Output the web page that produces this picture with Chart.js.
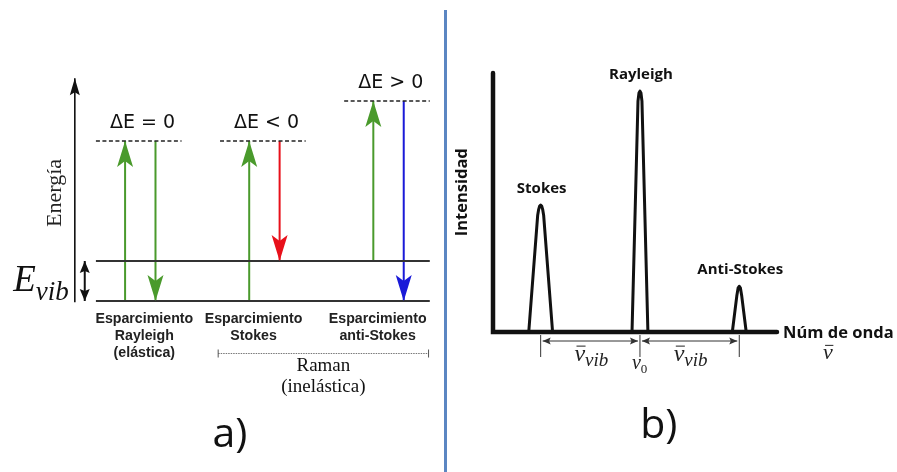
<!DOCTYPE html>
<html>
<head>
<meta charset="utf-8">
<script src="https://cdn.jsdelivr.net/npm/chart.js@4/dist/chart.umd.min.js"></script>
<style>
  html, body { margin: 0; padding: 0; background: #fff; }
  #wrap { position: relative; width: 897px; height: 472px; overflow: hidden; }
  canvas { position: absolute; top: 0; }
  #levels { left: 0; }
  #spectrum { left: 445px; }
  #sep { position: absolute; left: 444px; top: 10px; width: 3px; height: 462px; background: #5b86c2; }
</style>
</head>
<body>
<div id="wrap">
  <canvas id="levels" width="445" height="472"></canvas>
  <div id="sep"></div>
  <canvas id="spectrum" width="452" height="472"></canvas>
</div>
<script>
// ---------- a) Energy-level diagram (arbitrary energy units, ground state = 0) ----------
const processes     = ['Rayleigh', 'Stokes', 'anti-Stokes'];
const processColumn = [1, 2, 3];
const initialLevel  = [0, 0, 1];
const virtualLevel  = [4, 4, 5];
const finalLevel    = [0, 1, 0];
const deltaLabels   = ['ΔE = 0', 'ΔE < 0', 'ΔE > 0'];
const captions      = [
  ['Esparcimiento', 'Rayleigh', '(elástica)'],
  ['Esparcimiento', 'Stokes'],
  ['Esparcimiento', 'anti-Stokes']
];
const groundLevel = 0;
const vibLevel = 1;
const energyAxisTop = 5.57;

// ---------- b) Spectrum (wavenumber relative to ν0, in units of ν_vib) ----------
const wavenumber = [-1.48, -1.12, -1.03, -1.02, -1.01, -1.0, -0.99, -0.98, -0.97, -0.88,
                    -0.08, -0.02, -0.01, 0, 0.01, 0.02, 0.08,
                    0.93, 0.975, 0.988, 1.0, 1.012, 1.025, 1.07, 1.38];
const intensity  = [0, 0, 48.5, 50.9, 52.3, 52.7, 52.3, 50.9, 48.5, 0,
                    0, 95.8, 99.2, 100, 99.2, 95.8, 0,
                    0, 14.9, 18.2, 19, 18.2, 14.9, 0, 0];
const peakNames     = ['Stokes', 'Rayleigh', 'Anti-Stokes'];
const peakPositions = [-1, 0, 1];
const peakHeights   = [52.7, 100, 19];

// ---------- drawing helpers ----------
const GREEN = '#4a9a2c', RED = '#e8101a', BLUE = '#1a1ad8', INK = '#111';
const emissionColor = [GREEN, RED, BLUE];
const UP_OFFSET = -0.105, DOWN_OFFSET = 0.14;
const captionX = [1.05, 1.93, 2.93];

function head(ctx, x, y, angle, len, half, notch, color) {
  ctx.save();
  ctx.translate(x, y);
  ctx.rotate(angle);
  ctx.beginPath();
  ctx.moveTo(0, 0);
  ctx.lineTo(-len, half);
  ctx.lineTo(-len + notch, 0);
  ctx.lineTo(-len, -half);
  ctx.closePath();
  ctx.fillStyle = color;
  ctx.fill();
  ctx.restore();
}

// arrowheads for datasets flagged with `arrow`
const arrowPlugin = {
  id: 'arrowHeads',
  afterDatasetsDraw(chart) {
    const ctx = chart.ctx;
    chart.data.datasets.forEach((ds, i) => {
      if (!ds.arrow) return;
      const pts = chart.getDatasetMeta(i).data;
      const a = pts[pts.length - 2], b = pts[pts.length - 1];
      const [len, half, notch] = ds.arrow;
      head(ctx, b.x, b.y, Math.atan2(b.y - a.y, b.x - a.x), len, half, notch, ds.borderColor);
      if (ds.bothEnds) {
        head(ctx, a.x, a.y, Math.atan2(a.y - b.y, a.x - b.x), len, half, notch, ds.borderColor);
      }
    });
  }
};

function seg(points, color, width, extra) {
  return Object.assign({
    data: points, showLine: true, borderColor: color, borderWidth: width,
    pointRadius: 0, fill: false, tension: 0, clip: false
  }, extra || {});
}

function nuBar(ctx, cx, baseline, sub, size, subSize) {
  ctx.save();
  ctx.font = 'italic ' + size + 'px "Liberation Serif"';
  const w = ctx.measureText('ν').width;
  ctx.font = 'italic ' + subSize + 'px "Liberation Serif"';
  const ws = sub ? ctx.measureText(sub).width : 0;
  const x0 = cx - (w + ws) / 2;
  ctx.fillStyle = '#222';
  ctx.textAlign = 'left';
  ctx.textBaseline = 'alphabetic';
  ctx.font = 'italic ' + size + 'px "Liberation Serif"';
  ctx.fillText('ν', x0, baseline);
  ctx.strokeStyle = '#222';
  ctx.lineWidth = 1;
  ctx.beginPath();
  ctx.moveTo(x0 + w * 0.2, baseline - size * 0.62);
  ctx.lineTo(x0 + w * 1.05, baseline - size * 0.62);
  ctx.stroke();
  if (sub) {
    ctx.font = 'italic ' + subSize + 'px "Liberation Serif"';
    ctx.fillText(sub, x0 + w, baseline + size * 0.22);
  }
  ctx.restore();
}

// ---------- chart a) ----------
const levelDatasets = [];
levelDatasets.push(seg([{x: 0.66, y: groundLevel}, {x: 3.35, y: groundLevel}], '#333', 1.8));
levelDatasets.push(seg([{x: 0.66, y: vibLevel}, {x: 3.35, y: vibLevel}], '#333', 1.8));
processes.forEach((p, i) => {
  const c = processColumn[i];
  levelDatasets.push(seg([{x: c - 0.34, y: virtualLevel[i]}, {x: c + 0.35, y: virtualLevel[i]}],
    '#222', 1.3, {borderDash: [4, 2.5]}));
});
processes.forEach((p, i) => {
  const c = processColumn[i];
  levelDatasets.push(seg([{x: c + UP_OFFSET, y: initialLevel[i]}, {x: c + UP_OFFSET, y: virtualLevel[i]}],
    GREEN, 2, {arrow: [26, 8, 6]}));
  levelDatasets.push(seg([{x: c + DOWN_OFFSET, y: virtualLevel[i]}, {x: c + DOWN_OFFSET, y: finalLevel[i]}],
    emissionColor[i], 2, {arrow: [26, 8, 6]}));
});
// energy axis
levelDatasets.push(seg([{x: 0.49, y: -0.03}, {x: 0.49, y: energyAxisTop}], INK, 1.6, {arrow: [17, 5, 3]}));
// vibrational gap marker
levelDatasets.push(seg([{x: 0.57, y: groundLevel}, {x: 0.57, y: vibLevel}], INK, 2,
  {arrow: [12, 5, 2], bothEnds: true}));

const levelText = {
  id: 'levelText',
  afterDatasetsDraw(chart) {
    const ctx = chart.ctx, xs = chart.scales.x, ys = chart.scales.y;
    const ground = ys.getPixelForValue(groundLevel);
    ctx.save();
    ctx.fillStyle = INK;
    ctx.textAlign = 'center';
    ctx.textBaseline = 'middle';
    ctx.font = '19px "DejaVu Sans"';
    deltaLabels.forEach((t, i) => {
      ctx.fillText(t, xs.getPixelForValue(processColumn[i] + 0.035), ys.getPixelForValue(virtualLevel[i]) - 18);
    });

    // captions
    ctx.font = 'bold 14.2px "Liberation Sans"';
    ctx.fillStyle = '#222';
    captions.forEach((lines, i) => {
      lines.forEach((t, k) => ctx.fillText(t, xs.getPixelForValue(captionX[i]), ground + 18 + k * 17));
    });

    // Raman bracket
    const bx0 = xs.getPixelForValue(1.645), bx1 = xs.getPixelForValue(3.34), by = ground + 52.5;
    ctx.strokeStyle = '#777';
    ctx.lineWidth = 1;
    ctx.setLineDash([1.5, 1]);
    ctx.beginPath(); ctx.moveTo(bx0, by); ctx.lineTo(bx1, by); ctx.stroke();
    ctx.setLineDash([]);
    ctx.strokeStyle = '#555';
    ctx.beginPath();
    ctx.moveTo(bx0, by - 4); ctx.lineTo(bx0, by + 4);
    ctx.moveTo(bx1, by - 4); ctx.lineTo(bx1, by + 4);
    ctx.stroke();
    ctx.fillStyle = '#111';
    ctx.font = '19px "Liberation Serif"';
    const rc = (bx0 + bx1) / 2;
    ctx.fillText('Raman', rc, ground + 65.5);
    ctx.fillText('(inelástica)', rc, ground + 86.5);

    // axis title
    const ax = xs.getPixelForValue(0.49);
    ctx.save();
    ctx.translate(ax - 20, ys.getPixelForValue(2.7));
    ctx.rotate(-Math.PI / 2);
    ctx.font = '22px "Liberation Serif"';
    ctx.fillStyle = '#222';
    ctx.fillText('Energía', 0, 0);
    ctx.restore();

    // E_vib
    ctx.textAlign = 'left';
    ctx.textBaseline = 'alphabetic';
    ctx.font = 'italic 37px "Liberation Serif"';
    const wE = ctx.measureText('E').width;
    ctx.font = 'italic 27px "Liberation Serif"';
    const wV = ctx.measureText('vib').width;
    const ex = ax - 6 - wE - wV;
    ctx.fillStyle = '#111';
    ctx.font = 'italic 37px "Liberation Serif"';
    ctx.fillText('E', ex, ground - 10);
    ctx.font = 'italic 27px "Liberation Serif"';
    ctx.fillText('vib', ex + wE, ground - 1);

    // panel tag
    ctx.textAlign = 'center';
    ctx.font = '41px "Open Sans"';
    ctx.fillStyle = '#111';
    ctx.fillText('a)', xs.getPixelForValue(1.74), 447);
    ctx.restore();
  }
};

new Chart(document.getElementById('levels'), {
  type: 'scatter',
  data: { datasets: levelDatasets },
  options: {
    responsive: false, animation: false, devicePixelRatio: 1,
    layout: { padding: { left: 14, right: 9, top: 61, bottom: 151 } },
    plugins: { legend: { display: false }, tooltip: { enabled: false } },
    scales: {
      x: { type: 'linear', min: 0, max: 3.4, display: false },
      y: { type: 'linear', min: -0.5, max: 6, display: false }
    }
  },
  plugins: [arrowPlugin, levelText]
});

// ---------- chart b) ----------
const spectrumText = {
  id: 'spectrumText',
  beforeDatasetsDraw(chart) {
    const ctx = chart.ctx, a = chart.chartArea;
    ctx.save();
    ctx.strokeStyle = INK;
    ctx.lineWidth = 4.5;
    ctx.lineCap = 'round';
    ctx.beginPath();
    ctx.moveTo(a.left, a.top);
    ctx.lineTo(a.left, a.bottom);
    ctx.lineTo(a.right, a.bottom);
    ctx.stroke();
    ctx.restore();
  },
  afterDatasetsDraw(chart) {
    const ctx = chart.ctx, a = chart.chartArea, xs = chart.scales.x, ys = chart.scales.y;
    const base = ys.getPixelForValue(0);
    ctx.save();
    ctx.fillStyle = INK;
    ctx.textAlign = 'center';
    ctx.textBaseline = 'middle';
    ctx.font = 'bold 15px "Open Sans"';
    peakNames.forEach((t, i) => {
      ctx.fillText(t, xs.getPixelForValue(peakPositions[i] + 0.01), ys.getPixelForValue(peakHeights[i]) - 16);
    });

    ctx.font = 'bold 16.5px "Open Sans"';
    ctx.textAlign = 'left';
    ctx.fillText('Núm de onda', a.right + 6, base + 1);
    nuBar(ctx, a.right + 51, base + 27, '', 22, 16);

    ctx.save();
    ctx.translate(a.left - 31, ys.getPixelForValue(58));
    ctx.rotate(-Math.PI / 2);
    ctx.textAlign = 'center';
    ctx.fillText('Intensidad', 0, 0);
    ctx.restore();

    // ν_vib separations
    ctx.strokeStyle = '#333';
    ctx.lineWidth = 1;
    const tx = peakPositions.map(v => xs.getPixelForValue(v));
    ctx.beginPath();
    tx.forEach(x => { ctx.moveTo(x, base + 3); ctx.lineTo(x, base + 25); });
    const ay = base + 9;
    for (let i = 0; i < tx.length - 1; i++) {
      ctx.moveTo(tx[i] + 2, ay); ctx.lineTo(tx[i + 1] - 2, ay);
    }
    ctx.stroke();
    for (let i = 0; i < tx.length - 1; i++) {
      head(ctx, tx[i] + 2, ay, Math.PI, 8, 3.5, 1.5, '#333');
      head(ctx, tx[i + 1] - 2, ay, 0, 8, 3.5, 1.5, '#333');
      nuBar(ctx, (tx[i] + tx[i + 1]) / 2 + 1, base + 29, 'vib', 24, 19);
    }
    // ν0
    ctx.font = 'italic 20px "Liberation Serif"';
    ctx.textAlign = 'left';
    ctx.textBaseline = 'alphabetic';
    const w0 = ctx.measureText('ν').width;
    ctx.fillStyle = '#222';
    ctx.fillText('ν', tx[1] - 8, base + 37);
    ctx.font = '13px "Liberation Serif"';
    ctx.fillText('0', tx[1] - 8 + w0, base + 41);

    ctx.textAlign = 'center';
    ctx.font = '41px "Open Sans"';
    ctx.fillStyle = '#111';
    ctx.fillText('b)', xs.getPixelForValue(0.19), 438);
    ctx.restore();
  }
};

new Chart(document.getElementById('spectrum'), {
  type: 'scatter',
  data: {
    datasets: [seg(wavenumber.map((x, i) => ({x: x, y: intensity[i]})), INK, 3,
      {borderJoinStyle: 'round', borderCapStyle: 'round'})]
  },
  options: {
    responsive: false, animation: false, devicePixelRatio: 1,
    layout: { padding: { left: 48, right: 120, top: 73, bottom: 140 } },
    plugins: { legend: { display: false }, tooltip: { enabled: false } },
    scales: {
      x: { type: 'linear', min: -1.48, max: 1.38, display: false },
      y: { type: 'linear', min: 0, max: 107.5, display: false }
    }
  },
  plugins: [spectrumText]
});
</script>
</body>
</html>
